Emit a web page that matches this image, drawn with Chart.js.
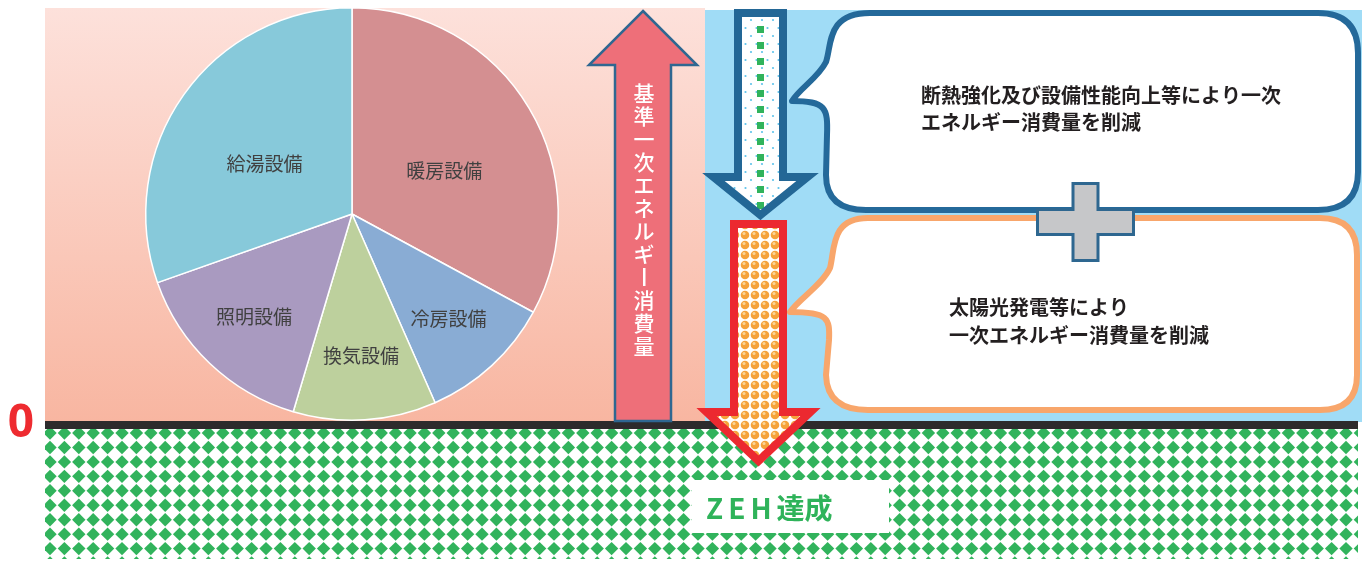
<!DOCTYPE html>
<html lang="ja">
<head>
<meta charset="utf-8">
<title>ZEH</title>
<script src="https://cdn.jsdelivr.net/npm/chart.js@4.4.1/dist/chart.umd.min.js"></script>
<style>
  html, body { margin: 0; padding: 0; background: #fff; }
  #wrap { width: 1367px; height: 561px; }
</style>
</head>
<body>
<div id="wrap"><canvas id="zehChart" width="1367" height="561"></canvas></div>
<script>
// 一次エネルギー消費量の内訳 (%)
const labels = ['暖房設備', '冷房設備', '換気設備', '照明設備', '給湯設備'];
const shares = [32.9, 10.5, 11.2, 15.0, 30.4];
const sliceColors = ['#d48f91', '#89acd4', '#bdd09d', '#a99ac0', '#87c9da'];

// texts around the pie
const CHOON = '\u30FC';
const arrowText = '基準一次エネルギ' + CHOON + '消費量';
const note1 = ['断熱強化及び設備性能向上等により一次', 'エネルギー消費量を削減'];
const note2 = ['太陽光発電等により', '一次エネルギー消費量を削減'];
const zeroLabel = '0';
const goalLabel = 'ZEH達成';

const JP = '"Noto Sans CJK JP", "Noto Sans", sans-serif';

// small canvases used as fill patterns
function makeTile(w, h, draw) {
  const c = document.createElement('canvas');
  c.width = w; c.height = h;
  draw(c.getContext('2d'));
  return c;
}

const dotTile = makeTile(11, 16, (t) => {
  t.fillStyle = '#ffffff';
  t.fillRect(0, 0, 11, 16);
  t.fillStyle = '#5ec3ea';
  t.beginPath(); t.arc(3, 4, 1.1, 0, Math.PI * 2); t.fill();
  t.beginPath(); t.arc(8.5, 12, 1.1, 0, Math.PI * 2); t.fill();
});

const ballTile = makeTile(10, 10, (t) => {
  t.fillStyle = '#ffffff';
  t.fillRect(0, 0, 10, 10);
  t.fillStyle = '#f5a23a';
  t.beginPath(); t.arc(5, 5, 4.3, 0, Math.PI * 2); t.fill();
  t.fillStyle = '#fbd596';
  t.beginPath(); t.arc(4, 3.6, 1.5, 0, Math.PI * 2); t.fill();
});

// backgrounds behind the pie
const backdrop = {
  id: 'backdrop',
  beforeDraw(chart) {
    const ctx = chart.ctx;
    ctx.save();
    const g = ctx.createLinearGradient(0, 8, 0, 422);
    g.addColorStop(0, '#fde1db');
    g.addColorStop(1, '#f8b6a1');
    ctx.fillStyle = g;
    ctx.fillRect(45, 8, 660, 414);
    ctx.fillStyle = '#a0dcf6';
    ctx.fillRect(705, 10, 657, 412);
    ctx.restore();
  }
};

// category names inside the slices
const sliceLabels = {
  id: 'sliceLabels',
  afterDatasetsDraw(chart) {
    const ctx = chart.ctx;
    const arcs = chart.getDatasetMeta(0).data;
    ctx.save();
    ctx.font = '19px ' + JP;
    ctx.fillStyle = '#404040';
    ctx.textAlign = 'center';
    ctx.textBaseline = 'middle';
    arcs.forEach((arc, i) => {
      const p = arc.getProps(['x', 'y', 'startAngle', 'endAngle', 'outerRadius'], true);
      const mid = (p.startAngle + p.endAngle) / 2;
      const big = (p.endAngle - p.startAngle) > Math.PI / 2;
      const frac = big ? 0.52 : 0.69;
      const lx = p.x + Math.cos(mid) * p.outerRadius * frac;
      const ly = p.y + Math.sin(mid) * p.outerRadius * frac + (big ? 12 : 0);
      ctx.fillText(labels[i], lx, ly);
    });
    ctx.restore();
  }
};

function arrowPath(ctx, cx, tipY, headY, endY, headHalf, shaftHalf) {
  ctx.beginPath();
  ctx.moveTo(cx, tipY);
  ctx.lineTo(cx + headHalf, headY);
  ctx.lineTo(cx + shaftHalf, headY);
  ctx.lineTo(cx + shaftHalf, endY);
  ctx.lineTo(cx - shaftHalf, endY);
  ctx.lineTo(cx - shaftHalf, headY);
  ctx.lineTo(cx - headHalf, headY);
  ctx.closePath();
}

function callout1(ctx) {
  ctx.beginPath();
  ctx.moveTo(870, 13);
  ctx.lineTo(1318, 13);
  ctx.quadraticCurveTo(1358, 13, 1358, 53);
  ctx.lineTo(1358, 172);
  ctx.quadraticCurveTo(1358, 210, 1318, 210);
  ctx.lineTo(866, 210);
  ctx.quadraticCurveTo(826, 210, 826, 175);
  ctx.lineTo(827, 135);
  ctx.bezierCurveTo(828, 108, 826, 101, 792, 101);
  ctx.bezierCurveTo(800, 88, 818, 78, 826, 62);
  ctx.bezierCurveTo(832, 45, 826, 13, 870, 13);
  ctx.closePath();
}

function callout2(ctx) {
  ctx.beginPath();
  ctx.moveTo(868, 218);
  ctx.lineTo(1320, 218);
  ctx.quadraticCurveTo(1357, 218, 1357, 255);
  ctx.lineTo(1357, 375);
  ctx.quadraticCurveTo(1357, 410, 1320, 410);
  ctx.lineTo(868, 410);
  ctx.quadraticCurveTo(827, 410, 826, 375);
  ctx.lineTo(829, 340);
  ctx.bezierCurveTo(830, 318, 828, 312, 790, 312);
  ctx.bezierCurveTo(800, 298, 822, 285, 830, 268);
  ctx.bezierCurveTo(835, 250, 830, 218, 868, 218);
  ctx.closePath();
}

function plusPath(ctx, cx, cy) {
  const hw = 48, hh = 12.5, vw = 12.5, vh = 38.5;
  ctx.beginPath();
  ctx.moveTo(cx - vw, cy - vh);
  ctx.lineTo(cx + vw, cy - vh);
  ctx.lineTo(cx + vw, cy - hh);
  ctx.lineTo(cx + hw, cy - hh);
  ctx.lineTo(cx + hw, cy + hh);
  ctx.lineTo(cx + vw, cy + hh);
  ctx.lineTo(cx + vw, cy + vh);
  ctx.lineTo(cx - vw, cy + vh);
  ctx.lineTo(cx - vw, cy + hh);
  ctx.lineTo(cx - hw, cy + hh);
  ctx.lineTo(cx - hw, cy - hh);
  ctx.lineTo(cx - vw, cy - hh);
  ctx.closePath();
}

// zero line, arrows, callouts and captions
const overlay = {
  id: 'overlay',
  afterDraw(chart) {
    const ctx = chart.ctx;
    ctx.save();

    // zero line
    ctx.fillStyle = '#2d2b2c';
    ctx.fillRect(45, 421, 1313, 8);

    // green diamond field below zero
    ctx.save();
    ctx.beginPath();
    ctx.rect(45, 429, 1313, 130);
    ctx.clip();
    ctx.fillStyle = '#31b35c';
    for (let y = 433; y < 566; y += 14.45) {
      for (let x = 50; x < 1366; x += 14.4) {
        ctx.beginPath();
        ctx.moveTo(x, y - 6.7);
        ctx.lineTo(x + 6.7, y);
        ctx.lineTo(x, y + 6.7);
        ctx.lineTo(x - 6.7, y);
        ctx.closePath();
        ctx.fill();
      }
    }
    ctx.restore();

    ctx.fillStyle = '#ee2b30';
    ctx.font = 'bold 46px "Noto Sans", sans-serif';
    ctx.textAlign = 'center';
    ctx.textBaseline = 'middle';
    ctx.fillText(zeroLabel, 21, 424);

    // 基準 arrow
    ctx.lineJoin = 'miter';
    arrowPath(ctx, 643, 11, 65, 421, 54, 28);
    ctx.fillStyle = '#ee6f79';
    ctx.fill();
    ctx.lineWidth = 2.5;
    ctx.strokeStyle = '#2f6791';
    ctx.stroke();

    // vertical writing, the long vowel mark turned upright
    ctx.fillStyle = '#ffffff';
    ctx.font = '500 21px ' + JP;
    [...arrowText].forEach((ch, i) => {
      const y = 93 + i * 23;
      if (ch === CHOON) {
        ctx.fillRect(643, y - 9, 2.5, 18);
      } else {
        ctx.fillText(ch, 644, y);
      }
    });

    // reduction arrow (insulation / equipment)
    arrowPath(ctx, 760.5, 215, 177, 13, 47, 22.5);
    ctx.fillStyle = ctx.createPattern(dotTile, 'repeat');
    ctx.fill();
    ctx.fillStyle = '#31b35c';
    for (let y = 10; y <= 212; y += 16) ctx.fillRect(757, y, 7, 7);
    arrowPath(ctx, 760.5, 215, 177, 13, 47, 22.5);
    ctx.lineWidth = 8;
    ctx.strokeStyle = '#236796';
    ctx.stroke();

    // reduction arrow (solar)
    arrowPath(ctx, 758.5, 461, 412, 224, 52, 24.5);
    ctx.fillStyle = ctx.createPattern(ballTile, 'repeat');
    ctx.fill();
    ctx.strokeStyle = '#ec2930';
    ctx.stroke();

    // callouts
    ctx.lineWidth = 6;
    ctx.lineJoin = 'round';
    callout1(ctx);
    ctx.fillStyle = '#ffffff';
    ctx.fill();
    ctx.strokeStyle = '#24699a';
    ctx.stroke();

    callout2(ctx);
    ctx.fillStyle = '#ffffff';
    ctx.fill();
    ctx.strokeStyle = '#f8a66b';
    ctx.stroke();

    ctx.lineJoin = 'miter';
    plusPath(ctx, 1085.5, 222);
    ctx.fillStyle = '#c6c7c9';
    ctx.fill();
    ctx.lineWidth = 3;
    ctx.strokeStyle = '#2e6790';
    ctx.stroke();

    ctx.fillStyle = '#231f20';
    ctx.font = 'bold 20px ' + JP;
    ctx.textAlign = 'left';
    note1.forEach((line, i) => ctx.fillText(line, 921, 95 + i * 27));
    note2.forEach((line, i) => ctx.fillText(line, 949, 307 + i * 28));

    // goal label, latin letters slightly spaced
    ctx.fillStyle = '#ffffff';
    ctx.fillRect(692, 480, 197, 53);
    ctx.fillStyle = '#2fb35a';
    ctx.font = 'bold 28px ' + JP;
    let gx = 706;
    for (const ch of goalLabel) {
      ctx.fillText(ch, gx, 508);
      gx += ctx.measureText(ch).width + (ch.charCodeAt(0) < 128 ? 5 : 0);
    }

    ctx.restore();
  }
};

new Chart(document.getElementById('zehChart'), {
  type: 'pie',
  data: {
    labels: labels,
    datasets: [{
      data: shares,
      backgroundColor: sliceColors,
      borderColor: '#ffffff',
      borderWidth: 1.5
    }]
  },
  options: {
    responsive: false,
    animation: false,
    devicePixelRatio: 1,
    events: [],
    layout: { padding: { left: 145, right: 808, top: 7, bottom: 140 } },
    plugins: {
      legend: { display: false },
      tooltip: { enabled: false }
    }
  },
  plugins: [backdrop, sliceLabels, overlay]
});
</script>
</body>
</html>
